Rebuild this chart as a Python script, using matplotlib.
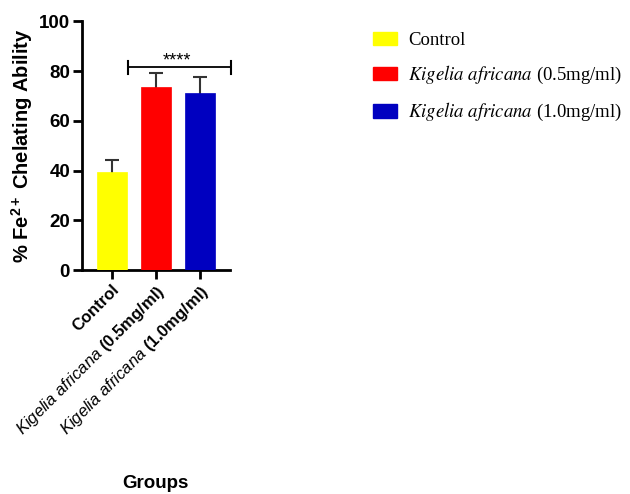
import matplotlib
matplotlib.use("Agg")
import matplotlib.pyplot as plt
from matplotlib.patches import Patch

plt.rcParams['font.family'] = 'Liberation Sans'
plt.rcParams['mathtext.fontset'] = 'custom'
plt.rcParams['mathtext.rm'] = 'Liberation Sans:bold'
plt.rcParams['mathtext.it'] = 'Liberation Sans:italic'
plt.rcParams['mathtext.bf'] = 'Liberation Sans:bold'

# data
groups = ['Control', 'Kigelia africana (0.5mg/ml)', 'Kigelia africana (1.0mg/ml)']
tick_labels = ['Control',
               r'$\mathit{Kigelia\ africana}$ (0.5mg/ml)',
               r'$\mathit{Kigelia\ africana}$ (1.0mg/ml)']
legend_labels = ['Control',
                 r'$\mathit{Kigelia\ africana}$ (0.5mg/ml)',
                 r'$\mathit{Kigelia\ africana}$ (1.0mg/ml)']
means = [39.5, 73.5, 71.0]
sem = [4.8, 5.8, 6.7]
colors = ['#ffff00', '#ff0000', '#0000c0']
sig_label = '****'

fig = plt.figure(figsize=(6.3, 4.94), dpi=100)
ax = fig.add_axes([0.130, 0.453, 0.235, 0.504])

pos = list(range(len(means)))
ax.errorbar(pos, means, yerr=sem, fmt='none', ecolor='#333333',
            elinewidth=1.5, capsize=5, capthick=1.5, zorder=2)
ax.bar(pos, means, width=0.68, color=colors, edgecolor=colors, linewidth=0.5, zorder=3)

ax.set_xlim(-0.68, 2.68)
ax.set_ylim(0, 100)
ax.set_yticks([0, 20, 40, 60, 80, 100])
ax.set_xticks(pos)
ax.set_xticklabels(tick_labels, rotation=45, ha='right', rotation_mode='anchor',
                   fontsize=12, fontweight='bold')
for lab in ax.get_yticklabels():
    lab.set_fontweight('bold')
    lab.set_fontsize(13.5)

ax.spines['top'].set_visible(False)
ax.spines['right'].set_visible(False)
ax.spines['left'].set_linewidth(2)
ax.spines['bottom'].set_linewidth(2)
ax.spines['left'].set_zorder(4)
ax.tick_params(axis='both', width=2, length=6.5, pad=2)

ax.set_ylabel(r'% Fe$^{2+}$ Chelating Ability', fontsize=14.5, fontweight='bold', labelpad=3)
fig.text(0.246, 0.012, 'Groups', fontsize=13.5, fontweight='bold', ha='center')

# significance bracket
x0, x1, yb = 0.36, 2.70, 81.5
ax.plot([x0, x1], [yb, yb], color='black', lw=1.3, clip_on=False)
ax.plot([x0, x0], [yb - 2.5, yb + 2.5], color='black', lw=1.5, clip_on=False)
ax.plot([x1, x1], [yb - 2.5, yb + 2.5], color='black', lw=1.5, clip_on=False)
ax.text((x0 + x1) / 2 - 0.05, yb - 0.8, sig_label, ha='center', va='bottom', fontsize=13)

handles = [Patch(facecolor=c, edgecolor=c) for c in colors]
fig.legend(handles, legend_labels, loc='upper left', bbox_to_anchor=(0.565, 0.97),
           frameon=False, handlelength=1.3, handleheight=0.75, handletextpad=0.6,
           labelspacing=0.8,
           prop=dict(family='Liberation Serif', size=13.5, math_fontfamily='stix'))

fig.savefig('out.png', dpi=100)
